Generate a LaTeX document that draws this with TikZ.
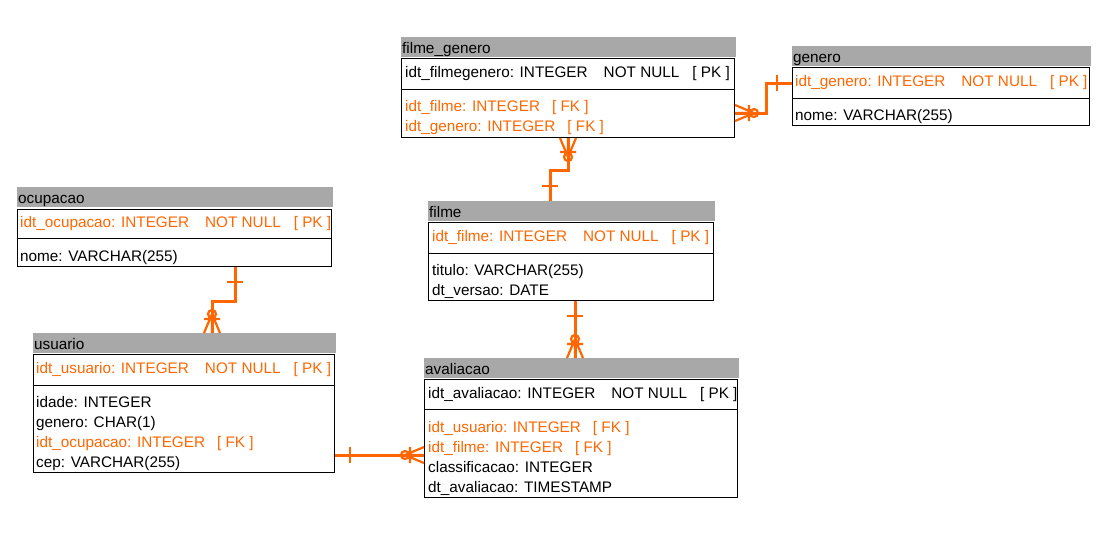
\documentclass[tikz,border=0pt]{standalone}
\usepackage{fontspec}
\setmainfont{Liberation Sans}
\usepackage{tikz}
\usetikzlibrary{positioning}

\definecolor{erorange}{RGB}{255,102,0}
\definecolor{ergray}{RGB}{168,168,168}

\begin{document}
\begin{tikzpicture}[x=1pt,y=-1pt,font=\fontsize{15.3}{20}\selectfont,
    head/.style={fill=ergray,anchor=north west,inner sep=0pt,minimum height=20pt},
    tbox/.style={draw=black,line width=1pt,anchor=north west,inner sep=0pt},
    tname/.style={anchor=base west,inner sep=0pt,text=black},
    attr/.style={anchor=base west,inner sep=0pt,text=black},
    keyattr/.style={attr,text=erorange},
    rel/.style={draw=erorange,line width=3pt},
    many/.pic={\draw[erorange,line width=2.2pt] (0,-8) -- (19,0) (0,0) -- (19,0) (0,8) -- (19,0)
                 (14,-8) -- (14,8) (19,0) circle (4pt);},
    one/.pic={\draw[erorange,line width=2.5pt] (15,-8) -- (15,8);}]
  \useasboundingbox (0,0) rectangle (1110,542);

  % ocupacao
  \node[head,minimum width=316pt] (ocupacao) at (17,187) {};
  \node[tbox,minimum width=314pt,minimum height=57pt] (ocbox) at (17,209) {};
  \draw (17,238) -- (331,238);
  \node[tname] (oc-t) at (18,203) {ocupacao};
  \node[keyattr] (oc-pk) at (20,227) {idt\_ocupacao: INTEGER\hspace{16pt}NOT NULL\hspace{13pt}[ PK ]};
  \node[attr] (oc-1) at (20,261) {nome: VARCHAR(255)};

  % usuario
  \node[head,minimum width=303pt] (usuario) at (33,333) {};
  \node[tbox,minimum width=301pt,minimum height=118pt] (usbox) at (33,354) {};
  \draw (33,385) -- (334,385);
  \node[tname] (us-t) at (34,349) {usuario};
  \node[keyattr] (us-pk) at (36,373) {idt\_usuario: INTEGER\hspace{16pt}NOT NULL\hspace{13pt}[ PK ]};
  \node[attr] (us-1) at (36,407) {idade: INTEGER};
  \node[attr] (us-2) at (36,427) {genero: CHAR(1)};
  \node[keyattr] (us-3) at (36,447) {idt\_ocupacao: INTEGER\hspace{12pt}[ FK ]};
  \node[attr] (us-4) at (36,467) {cep: VARCHAR(255)};

  % filme_genero
  \node[head,minimum width=335pt] (filmegenero) at (401,37) {};
  \node[tbox,minimum width=333pt,minimum height=79pt] (fgbox) at (401,58) {};
  \draw (401,89) -- (734,89);
  \node[tname] (fg-t) at (402,53) {filme\_genero};
  \node[attr] (fg-pk) at (405,77) {idt\_filmegenero: INTEGER\hspace{16pt}NOT NULL\hspace{13pt}[ PK ]};
  \node[keyattr] (fg-1) at (405,111) {idt\_filme: INTEGER\hspace{12pt}[ FK ]};
  \node[keyattr] (fg-2) at (405,131) {idt\_genero: INTEGER\hspace{12pt}[ FK ]};

  % genero
  \node[head,minimum width=299pt] (genero) at (792,46) {};
  \node[tbox,minimum width=297pt,minimum height=58pt] (gnbox) at (792,67) {};
  \draw (792,98) -- (1089,98);
  \node[tname] (gn-t) at (793,62) {genero};
  \node[keyattr] (gn-pk) at (795,86) {idt\_genero: INTEGER\hspace{16pt}NOT NULL\hspace{13pt}[ PK ]};
  \node[attr] (gn-1) at (795,120) {nome: VARCHAR(255)};

  % filme
  \node[head,minimum width=287pt] (filme) at (428,201) {};
  \node[tbox,minimum width=285pt,minimum height=78pt] (fmbox) at (428,222) {};
  \draw (428,253) -- (713,253);
  \node[tname] (fm-t) at (429,217) {filme};
  \node[keyattr] (fm-pk) at (432,241) {idt\_filme: INTEGER\hspace{16pt}NOT NULL\hspace{13pt}[ PK ]};
  \node[attr] (fm-1) at (432,275) {titulo: VARCHAR(255)};
  \node[attr] (fm-2) at (432,295) {dt\_versao: DATE};

  % avaliacao
  \node[head,minimum width=315pt] (avaliacao) at (424,358) {};
  \node[tbox,minimum width=313pt,minimum height=118pt] (avbox) at (424,379) {};
  \draw (424,409) -- (737,409);
  \node[tname] (av-t) at (425,374) {avaliacao};
  \node[attr] (av-pk) at (428,398) {idt\_avaliacao: INTEGER\hspace{16pt}NOT NULL\hspace{13pt}[ PK ]};
  \node[keyattr] (av-1) at (428,432) {idt\_usuario: INTEGER\hspace{12pt}[ FK ]};
  \node[keyattr] (av-2) at (428,452) {idt\_filme: INTEGER\hspace{12pt}[ FK ]};
  \node[attr] (av-3) at (428,472) {classificacao: INTEGER};
  \node[attr] (av-4) at (428,492) {dt\_avaliacao: TIMESTAMP};

  % relationships
  \path[rel] ([yshift=-55pt]fgbox.north east) pic{many} -- ++(31,0)
             |- ([yshift=-16pt]gnbox.north west) pic[rotate=180]{one};
  \path[rel] ([xshift=167pt]fgbox.south west) pic[rotate=-90]{many} -- ++(0,32)
             -| ([xshift=122pt]filme.north west) pic[rotate=90]{one};
  \path[rel] ([xshift=218pt]ocbox.south west) pic[rotate=-90]{one} -- ++(0,34)
             -| ([xshift=179pt]usuario.north west) pic[rotate=90]{many};
  \path[rel] ([yshift=-101pt]usbox.north east) pic{one}
             -- ([yshift=-76pt]avbox.north west) pic[rotate=180]{many};
  \path[rel] ([xshift=147pt]fmbox.south west) pic[rotate=-90]{one}
             -- ([xshift=151pt]avaliacao.north west) pic[rotate=90]{many};
\end{tikzpicture}
\end{document}
